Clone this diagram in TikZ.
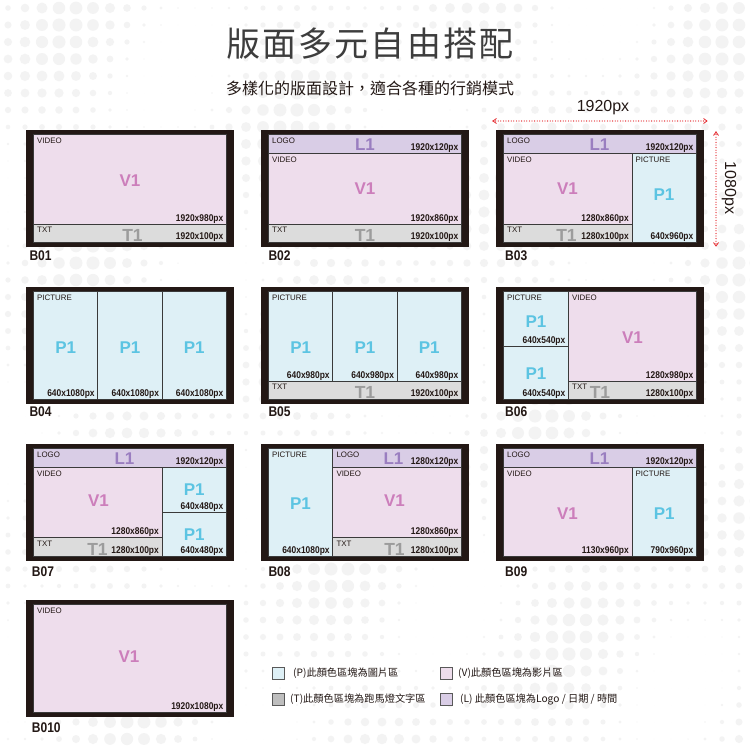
\documentclass[tikz,border=0pt]{standalone}
\usepackage{fontspec}
\setmainfont{Liberation Sans}
\newfontfamily\cjk{Noto Sans CJK TC}
\newfontfamily\titlecjk[LetterSpace=6]{Noto Sans CJK TC}
\newfontfamily\narrowsans[FakeStretch=0.86]{Liberation Sans}
\usetikzlibrary{arrows.meta,calc}
\definecolor{frm}{HTML}{231815}
\definecolor{vidF}{HTML}{EEDDEC}
\definecolor{vidT}{HTML}{CC7EBB}
\definecolor{logF}{HTML}{D9CDE6}
\definecolor{logT}{HTML}{9A7EC0}
\definecolor{picF}{HTML}{DEF0F6}
\definecolor{picT}{HTML}{5CC4E2}
\definecolor{txtF}{HTML}{DCDCDC}
\definecolor{txtT}{HTML}{9C9C9C}
\definecolor{cellL}{HTML}{3A3A3A}
\definecolor{dotC}{HTML}{F3F3F3}
\definecolor{redA}{HTML}{E5262B}
\definecolor{ink}{HTML}{231815}
\definecolor{titleC}{HTML}{3D3D3D}
\definecolor{legT}{HTML}{BEBEBE}
\tikzset{
 cell/.style={draw=cellL,line width=0.9pt},
 lab/.style={anchor=north west,inner sep=0pt,font=\fontsize{7.9}{8.5}\selectfont,text=ink},
 dim/.style={anchor=base east,inner sep=0pt,font=\narrowsans\bfseries\fontsize{9.8}{10}\selectfont,text=ink},
 big/.style={inner sep=0pt,font=\bfseries\fontsize{17}{18}\selectfont},
 bigb/.style={anchor=base,inner sep=0pt,font=\bfseries\fontsize{17.5}{18}\selectfont,text=txtT},
 frame/.style={fill=frm},
 bname/.style={anchor=west,inner sep=0pt,font=\narrowsans\bfseries\fontsize{14}{15}\selectfont,text=ink},
 leg/.style={draw=gray!70!black,line width=0.6pt},
 legt/.style={anchor=west,inner sep=0pt,font=\cjk\fontsize{10.2}{11}\selectfont,text=ink},
 reddot/.style={draw=redA,line width=1.3pt,dash pattern=on 0pt off 2.6pt,line cap=round},
}
\newcommand\rg[5]{\draw[cell,fill=#5] (#1,#2) rectangle (#3,#4);}
\newcommand\lb[4]{\node[lab] (#1) at ({#2+3.5},{#3+3}) {#4};}
\newcommand\dm[4]{\node[dim] (#1) at ({#2-3},{#3-3}) {#4};}
\newcommand\bg[5]{\node[big,text=#4] (#1) at (#2,#3) {#5};}
\newcommand\tb[3]{\node[bigb] (#1) at (#2,{#3-1.2}) {T1};}
\newcommand\frm{\fill[frame] (-7.7,-4.7) rectangle (200.7,112.7);}
\begin{document}
\begin{tikzpicture}[x=1pt,y=-1pt]
\useasboundingbox (0,0) rectangle (750,750);
\fill[white] (0,0) rectangle (750,750);
% background halftone
\foreach \i in {0,...,44}{\foreach \j in {0,...,44}{
 \pgfmathsetmacro\rr{max(0,2.8+3.8*sin(\i*23+\j*11)*cos(\j*14-\i*5))}
 \fill[dotC] ({\i*17+8},{\j*17+8}) circle[radius=\rr pt];}}
% title
\node[font=\titlecjk\fontsize{34}{36}\selectfont,text=titleC] (title) at (370,44) {版面多元自由搭配};
\node[font=\cjk\fontsize{16}{18}\selectfont,text=ink] (subtitle) at (370,88) {多樣化的版面設計，適合各種的行銷模式};
% dimension marks
\node[font=\fontsize{16}{18}\selectfont,text=ink,inner sep=0pt] (dimw) at (603,108) {1920px};
\node[font=\fontsize{16}{18}\selectfont,text=ink,inner sep=0pt,rotate=-90] (dimh) at (729,188) {1080px};
\coordinate (hL) at (493,121); \coordinate (hR) at (707,121);
\coordinate (vT) at (716,132); \coordinate (vB) at (716,246);
\draw[reddot] (hL) -- (hR);
\draw[reddot] (vT) -- (vB);
\draw[redA,line width=0.8pt] ($(hL)+(3.5,-2.5)$) -- (hL) -- ($(hL)+(3.5,2.5)$);
\draw[redA,line width=0.8pt] ($(hR)+(-3.5,-2.5)$) -- (hR) -- ($(hR)+(-3.5,2.5)$);
\draw[redA,line width=0.8pt] ($(vT)+(-2.5,3.5)$) -- (vT) -- ($(vT)+(2.5,3.5)$);
\draw[redA,line width=0.8pt] ($(vB)+(-2.5,-3.5)$) -- (vB) -- ($(vB)+(2.5,-3.5)$);
% B01
\begin{scope}[shift={(33.5,134.7)}]
\frm
\rg{0}{0}{193}{89.5}{vidF} \lb{b1a}{0}{0}{VIDEO} \bg{b1b}{96.5}{46}{vidT}{V1} \dm{b1c}{193}{89.5}{1920x980px}
\rg{0}{89.5}{193}{108}{txtF} \lb{b1d}{0}{89.5}{TXT} \tb{b1e}{99}{108} \dm{b1f}{193}{108}{1920x100px}
\node[bname] (B01) at (-4.2,121.3) {B01};
\end{scope}
% B02
\begin{scope}[shift={(268.5,134.7)}]
\frm
\rg{0}{0}{193}{19}{logF} \lb{b2a}{0}{0}{LOGO} \bg{b2b}{96.5}{10}{logT}{L1} \dm{b2c}{193}{19}{1920x120px}
\rg{0}{19}{193}{89.5}{vidF} \lb{b2d}{0}{19}{VIDEO} \bg{b2e}{96.5}{54}{vidT}{V1} \dm{b2f}{193}{89.5}{1920x860px}
\rg{0}{89.5}{193}{108}{txtF} \lb{b2g}{0}{89.5}{TXT} \tb{b2h}{96.5}{108} \dm{b2i}{193}{108}{1920x100px}
\node[bname] (B02) at (-0.2,121.3) {B02};
\end{scope}
% B03
\begin{scope}[shift={(503.5,134.7)}]
\frm
\rg{0}{0}{193}{19}{logF} \lb{b3a}{0}{0}{LOGO} \bg{b3b}{96}{10}{logT}{L1} \dm{b3c}{193}{19}{1920x120px}
\rg{0}{19}{128.5}{89.5}{vidF} \lb{b3d}{0}{19}{VIDEO} \bg{b3e}{64}{54}{vidT}{V1} \dm{b3f}{128.5}{89.5}{1280x860px}
\rg{0}{89.5}{128.5}{108}{txtF} \lb{b3g}{0}{89.5}{TXT} \tb{b3h}{63}{108} \dm{b3i}{128.5}{108}{1280x100px}
\rg{128.5}{19}{193}{108}{picF} \lb{b3j}{128.5}{19}{PICTURE} \bg{b3k}{160.5}{59.5}{picT}{P1} \dm{b3l}{193}{108}{640x960px}
\node[bname] (B03) at (1.5,121.3) {B03};
\end{scope}
% B04
\begin{scope}[shift={(33.5,291.7)}]
\frm
\rg{0}{0}{64.3}{108}{picF} \lb{b4a}{0}{0}{PICTURE} \bg{b4b}{32.2}{56}{picT}{P1} \dm{b4c}{64.3}{108}{640x1080px}
\rg{64.3}{0}{128.7}{108}{picF} \bg{b4d}{96.5}{56}{picT}{P1} \dm{b4e}{128.7}{108}{640x1080px}
\rg{128.7}{0}{193}{108}{picF} \bg{b4f}{160.8}{56}{picT}{P1} \dm{b4g}{193}{108}{640x1080px}
\node[bname] (B04) at (-4.2,119.8) {B04};
\end{scope}
% B05
\begin{scope}[shift={(268.5,291.7)}]
\frm
\rg{0}{0}{64.3}{89.5}{picF} \lb{b5a}{0}{0}{PICTURE} \bg{b5b}{32.2}{56}{picT}{P1} \dm{b5c}{64.3}{89.5}{640x980px}
\rg{64.3}{0}{128.7}{89.5}{picF} \bg{b5d}{96.5}{56}{picT}{P1} \dm{b5e}{128.7}{89.5}{640x980px}
\rg{128.7}{0}{193}{89.5}{picF} \bg{b5f}{160.8}{56}{picT}{P1} \dm{b5g}{193}{89.5}{640x980px}
\rg{0}{89.5}{193}{108}{txtF} \lb{b5h}{0}{89.5}{TXT} \tb{b5i}{96.5}{108} \dm{b5j}{193}{108}{1920x100px}
\node[bname] (B05) at (-0.2,119.8) {B05};
\end{scope}
% B06
\begin{scope}[shift={(503.5,291.7)}]
\frm
\rg{0}{0}{65}{54.5}{picF} \lb{b6a}{0}{0}{PICTURE} \bg{b6b}{32.5}{30}{picT}{P1} \dm{b6c}{65}{54.5}{640x540px}
\rg{0}{54.5}{65}{108}{picF} \bg{b6d}{32.5}{81.5}{picT}{P1} \dm{b6e}{65}{108}{640x540px}
\rg{65}{0}{193}{89.5}{vidF} \lb{b6f}{65}{0}{VIDEO} \bg{b6g}{129}{46}{vidT}{V1} \dm{b6h}{193}{89.5}{1280x980px}
\rg{65}{89.5}{193}{108}{txtF} \lb{b6i}{65}{89.5}{TXT} \tb{b6j}{96.5}{108} \dm{b6k}{193}{108}{1280x100px}
\node[bname] (B06) at (1.5,119.8) {B06};
\end{scope}
% B07
\begin{scope}[shift={(33.5,448.3)}]
\frm
\rg{0}{0}{193}{19}{logF} \lb{b7a}{0}{0}{LOGO} \bg{b7b}{91}{10}{logT}{L1} \dm{b7c}{193}{19}{1920x120px}
\rg{0}{19}{128.5}{89.5}{vidF} \lb{b7d}{0}{19}{VIDEO} \bg{b7e}{65}{52.5}{vidT}{V1} \dm{b7f}{128.5}{89.5}{1280x860px}
\rg{0}{89.5}{128.5}{108}{txtF} \lb{b7g}{0}{89.5}{TXT} \tb{b7h}{64}{108} \dm{b7i}{128.5}{108}{1280x100px}
\rg{128.5}{19}{193}{64}{picF} \bg{b7j}{160.8}{41.5}{picT}{P1} \dm{b7k}{193}{64}{640x480px}
\rg{128.5}{64}{193}{108}{picF} \bg{b7l}{160.8}{86}{picT}{P1} \dm{b7m}{193}{108}{640x480px}
\node[bname] (B07) at (-1.8,123.7) {B07};
\end{scope}
% B08
\begin{scope}[shift={(268.5,448.3)}]
\frm
\rg{0}{0}{64.3}{108}{picF} \lb{b8a}{0}{0}{PICTURE} \bg{b8b}{32}{55}{picT}{P1} \dm{b8c}{64.3}{108}{640x1080px}
\rg{64.3}{0}{193}{19}{logF} \lb{b8d}{64.3}{0}{LOGO} \bg{b8e}{125}{10}{logT}{L1} \dm{b8f}{193}{19}{1280x120px}
\rg{64.3}{19}{193}{89.5}{vidF} \lb{b8g}{64.3}{19}{VIDEO} \bg{b8h}{126}{52}{vidT}{V1} \dm{b8i}{193}{89.5}{1280x860px}
\rg{64.3}{89.5}{193}{108}{txtF} \lb{b8j}{64.3}{89.5}{TXT} \tb{b8k}{126}{108} \dm{b8l}{193}{108}{1280x100px}
\node[bname] (B08) at (-0.2,123.7) {B08};
\end{scope}
% B09
\begin{scope}[shift={(503.5,448.3)}]
\frm
\rg{0}{0}{193}{19}{logF} \lb{b9a}{0}{0}{LOGO} \bg{b9b}{96}{10}{logT}{L1} \dm{b9c}{193}{19}{1920x120px}
\rg{0}{19}{128.5}{108}{vidF} \lb{b9d}{0}{19}{VIDEO} \bg{b9e}{64}{65.5}{vidT}{V1} \dm{b9f}{128.5}{108}{1130x960px}
\rg{128.5}{19}{193}{108}{picF} \lb{b9g}{128.5}{19}{PICTURE} \bg{b9h}{160.8}{65.5}{picT}{P1} \dm{b9i}{193}{108}{790x960px}
\node[bname] (B09) at (1.5,123.7) {B09};
\end{scope}
% B010
\begin{scope}[shift={(33.5,604.5)}]
\frm
\rg{0}{0}{193}{108}{vidF} \lb{b10a}{0}{0}{VIDEO} \bg{b10b}{95.5}{52}{vidT}{V1} \dm{b10c}{193}{108}{1920x1080px}
\node[bname] (B010) at (-1.8,123.2) {B010};
\end{scope}
% legend
\draw[leg,fill=picF] (272,667) rectangle (284,679);
\node[legt] (legP) at (293,673) {(P)此顏色區塊為圖片區};
\draw[leg,fill=vidF] (440,667) rectangle (452,679);
\node[legt] (legV) at (458,673) {(V)此顏色區塊為影片區};
\draw[leg,fill=legT] (272,693) rectangle (284,705);
\node[legt] (legTT) at (290,699) {(T)此顏色區塊為跑馬燈文字區};
\draw[leg,fill=logF] (440,693) rectangle (452,705);
\node[legt] (legL) at (460,699) {(L) 此顏色區塊為Logo / 日期 / 時間};
\end{tikzpicture}
\end{document}
